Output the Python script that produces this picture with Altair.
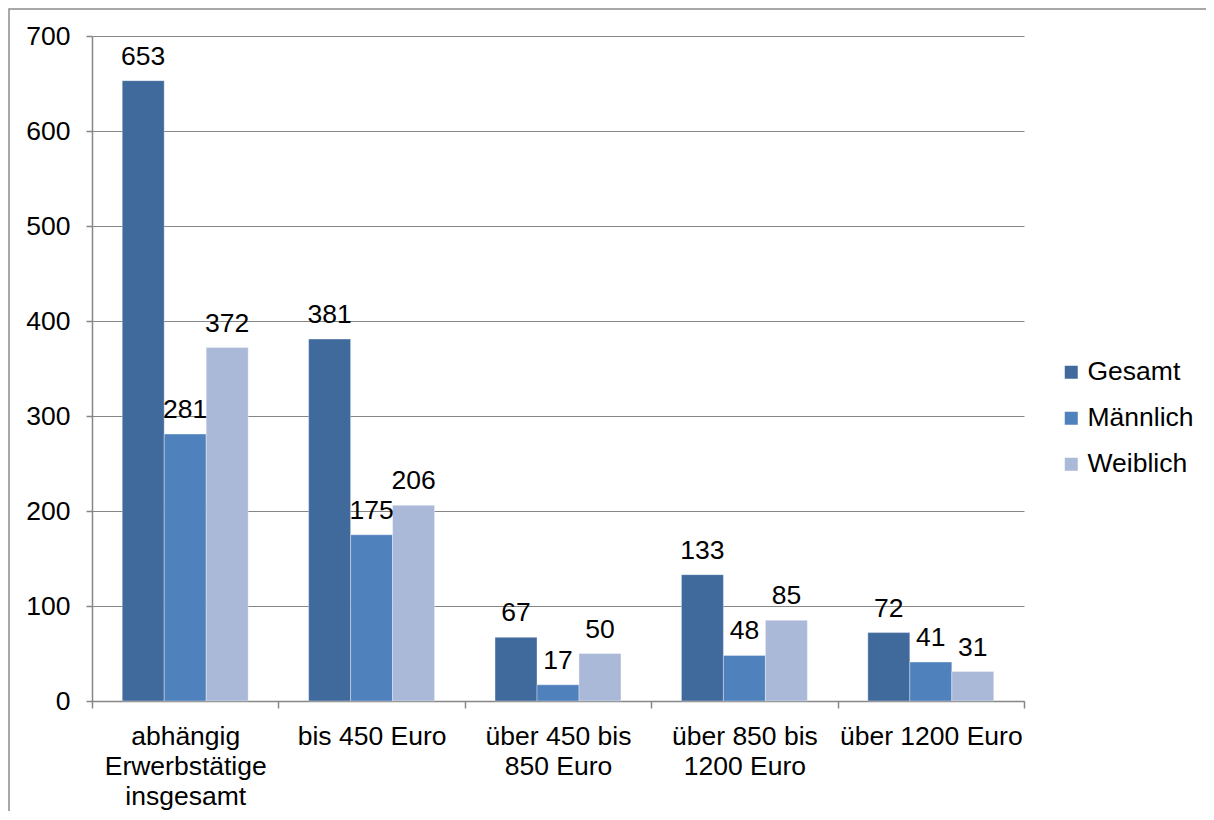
import altair as alt
import pandas as pd

categories = [
    "abhängig|Erwerbstätige|insgesamt",
    "bis 450 Euro",
    "über 450 bis|850 Euro",
    "über 850 bis|1200 Euro",
    "über 1200 Euro",
]
series = ["Gesamt", "Männlich", "Weiblich"]
gesamt = [653, 381, 67, 133, 72]
maennlich = [281, 175, 17, 48, 41]
weiblich = [372, 206, 50, 85, 31]
colors = ["#416A9C", "#4F81BD", "#AAB9D7"]
y_ticks = [0, 100, 200, 300, 400, 500, 600, 700]

rows = []
for s, vals in zip(series, [gesamt, maennlich, weiblich]):
    for c, v in zip(categories, vals):
        rows.append({"Kategorie": c, "Gruppe": s, "Wert": v})
df = pd.DataFrame(rows)

FONT = "Liberation Sans"
GRAY = "#868686"

x_enc = alt.X(
    "Kategorie:N",
    sort=categories,
    scale=alt.Scale(paddingInner=0, paddingOuter=0),
    axis=alt.Axis(
        title=None, labelAngle=0, labelAlign="center",
        labelExpr="isValid(datum.value) ? split(datum.value, '|') : ''",
        tickBand="extent", tickSize=7, tickColor=GRAY, tickWidth=1.5,
        domainColor=GRAY, domainWidth=1.5,
        labelFontSize=26.5, labelFont=FONT, labelColor="black",
        labelPadding=15, labelLineHeight=30, labelBaseline="top",
        labelLimit=400, grid=False,
    ),
)
xoff = alt.XOffset("Gruppe:N", sort=series,
                   scale=alt.Scale(paddingInner=0, paddingOuter=0.72))
y_enc = alt.Y(
    "Wert:Q",
    scale=alt.Scale(domain=[0, 700], nice=False),
    axis=alt.Axis(
        title=None, values=y_ticks, grid=True, gridColor=GRAY, gridWidth=1,
        domainColor=GRAY, domainWidth=1.5, tickColor=GRAY, tickSize=6,
        tickWidth=1.5, labelPadding=16, labelFontSize=26.5, labelFont=FONT,
        labelColor="black",
    ),
)

base = alt.Chart(df)

bars = base.mark_bar(stroke="white", strokeWidth=1, strokeOpacity=0.35).encode(
    x=x_enc,
    xOffset=xoff,
    y=y_enc,
    color=alt.Color(
        "Gruppe:N",
        scale=alt.Scale(domain=series, range=colors),
        legend=alt.Legend(
            title=None, orient="none", legendX=966, legendY=323,
            symbolType="square", symbolSize=169, symbolStrokeWidth=0,
            labelFontSize=26.5, labelFont=FONT, labelColor="black",
            rowPadding=19, labelOffset=3,
        ),
    ),
)

labels = base.mark_text(dy=-16, baseline="alphabetic", fontSize=26.5,
                        font=FONT, color="black").encode(
    x=alt.X("Kategorie:N", sort=categories),
    xOffset=alt.XOffset("Gruppe:N", sort=series),
    y=alt.Y("Wert:Q"),
    text="Wert:Q",
)

border = alt.Chart(alt.Data(values=[{"k": 1}])).mark_rect(
    fillOpacity=0, stroke="#8c8c8c", strokeWidth=1.5
).encode(
    x=alt.value(-83), x2=alt.value(1400), y=alt.value(-27), y2=alt.value(1200)
)

chart = alt.layer(border, bars, labels).properties(
    width=932, height=665,
    padding={"left": 84, "top": 28, "right": 182, "bottom": 110},
    autosize=alt.AutoSizeParams(type="none"),
).configure_view(stroke=None)

chart.save("out.html", embed_options={"renderer": "svg", "actions": False})
